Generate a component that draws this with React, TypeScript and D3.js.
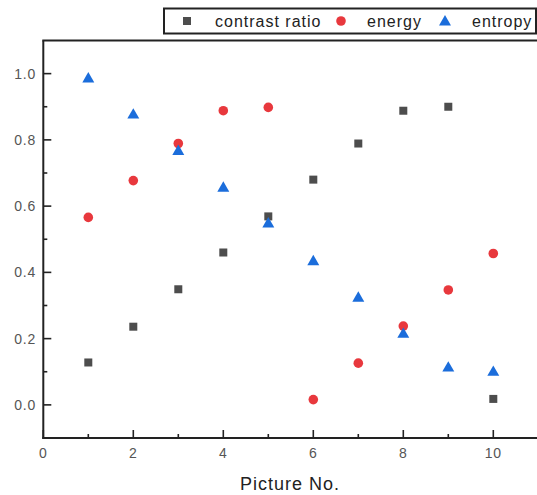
import React from "react";
import * as d3 from "d3";

// Picture numbers and the three normalised measures
const pictures = [1, 2, 3, 4, 5, 6, 7, 8, 9, 10];
const contrastRatio = [0.128, 0.236, 0.349, 0.46, 0.569, 0.68, 0.789, 0.888, 0.9, 0.018];
const energy = [0.566, 0.677, 0.789, 0.888, 0.898, 0.016, 0.126, 0.238, 0.347, 0.457];
const entropy = [0.987, 0.878, 0.768, 0.657, 0.549, 0.435, 0.325, 0.216, 0.114, 0.101];

const xMajorTicks = [0, 2, 4, 6, 8, 10];
const xMinorTicks = [1, 3, 5, 7, 9];
const yMajorTicks = [0, 0.2, 0.4, 0.6, 0.8, 1.0];
const yMinorTicks = [0.1, 0.3, 0.5, 0.7, 0.9];

const seriesNames = ["contrast ratio", "energy", "entropy"];

const W = 537;
const H = 495;
const FONT = "'Liberation Sans', Arial, sans-serif";

const GRAY = "#4d4d4d";
const RED = "#e8383d";
const BLUE = "#1b6ddb";

type Shape = "square" | "circle" | "triangle";

function Marker({ shape, cx, cy, color }: { shape: Shape; cx: number; cy: number; color: string }) {
  if (shape === "square") {
    return <rect x={cx - 4} y={cy - 4} width={8} height={8} fill={color} />;
  }
  if (shape === "circle") {
    return <circle cx={cx} cy={cy} r={4.8} fill={color} />;
  }
  const tri = d3.symbol(d3.symbolTriangle, 62)();
  return <path d={tri as string} transform={`translate(${cx},${cy + 1})`} fill={color} />;
}

export default function App() {
  const x = d3.scaleLinear().domain([0, 11]).range([43.3, 538.3]);
  const y = d3.scaleLinear().domain([-0.1, 1.1]).range([438, 40.5]);

  const [x0, x1] = x.range();
  const [yb, yt] = y.range();

  const series: { name: string; values: number[]; shape: Shape; color: string }[] = [
    { name: seriesNames[0], values: contrastRatio, shape: "square", color: GRAY },
    { name: seriesNames[1], values: energy, shape: "circle", color: RED },
    { name: seriesNames[2], values: entropy, shape: "triangle", color: BLUE },
  ];

  const legendItems = [
    { mx: 187, tx: 215 },
    { mx: 341, tx: 367 },
    { mx: 445, tx: 472 },
  ];

  return (
    <svg
      width={W}
      height={H}
      viewBox={`0 0 ${W} ${H}`}
      style={{ position: "absolute", left: 0, top: 0, background: "#fff" }}
    >
      <rect x={0} y={0} width={W} height={H} fill="#fff" />

      {/* plot frame */}
      <g stroke="#222" strokeWidth={2} fill="none">
        <line x1={x0} y1={yt} x2={x0} y2={yb + 1} />
        <line x1={x0 - 1} y1={yb} x2={x1} y2={yb} />
        <line x1={x0 - 1} y1={yt} x2={x1} y2={yt} />
        <line x1={x1} y1={yt} x2={x1} y2={yb} />
      </g>

      {/* y axis ticks */}
      <g stroke="#222" strokeWidth={1.6}>
        {yMajorTicks.map((t) => (
          <line key={`ym${t}`} x1={x0} x2={x0 + 8} y1={y(t)} y2={y(t)} />
        ))}
        {yMinorTicks.map((t) => (
          <line key={`yn${t}`} x1={x0} x2={x0 + 4} y1={y(t)} y2={y(t)} />
        ))}
        {xMajorTicks.map((t) => (
          <line key={`xm${t}`} x1={x(t)} x2={x(t)} y1={yb} y2={yb - 8} />
        ))}
        {xMinorTicks.map((t) => (
          <line key={`xn${t}`} x1={x(t)} x2={x(t)} y1={yb} y2={yb - 4} />
        ))}
      </g>

      <g fill="#555" fontFamily={FONT} fontSize={14} letterSpacing={0.8}>
        {yMajorTicks.map((t) => (
          <text key={`yl${t}`} x={36} y={y(t) + 5} textAnchor="end">
            {d3.format(".1f")(t)}
          </text>
        ))}
        {xMajorTicks.map((t) => (
          <text key={`xl${t}`} x={x(t)} y={458} textAnchor="middle">
            {String(t)}
          </text>
        ))}
      </g>

      <text
        x={290}
        y={490}
        textAnchor="middle"
        fontFamily={FONT}
        fontSize={18}
        letterSpacing={1}
        fill="#222"
      >
        Picture No.
      </text>

      {/* data points */}
      {series.map((s) => (
        <g key={s.name}>
          {s.values.map((v, i) => (
            <Marker key={i} shape={s.shape} cx={x(pictures[i])} cy={y(v)} color={s.color} />
          ))}
        </g>
      ))}

      {/* legend */}
      <rect x={164} y={8.5} width={372} height={25} fill="#fff" stroke="#222" strokeWidth={2} />
      {series.map((s, i) => (
        <g key={`lg${s.name}`}>
          <Marker shape={s.shape} cx={legendItems[i].mx} cy={21} color={s.color} />
          <text
            x={legendItems[i].tx}
            y={27}
            fontFamily={FONT}
            fontSize={16}
            letterSpacing={1}
            fill="#222"
          >
            {s.name}
          </text>
        </g>
      ))}
    </svg>
  );
}
